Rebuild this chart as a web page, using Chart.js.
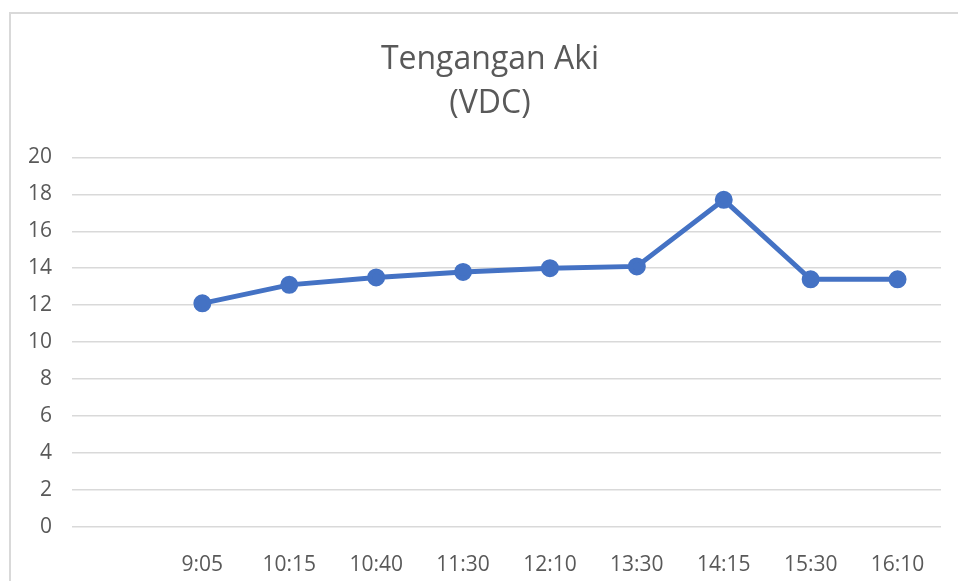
<!DOCTYPE html>
<html>
<head>
<meta charset="utf-8">
<script src="https://cdn.jsdelivr.net/npm/chart.js@4.4.0/dist/chart.umd.min.js"></script>
<style>
  html, body { margin: 0; padding: 0; background: #fff; overflow: hidden; }
  #frame {
    position: absolute; left: 9px; top: 12px;
    width: 1000px; height: 600px;
    border-left: 2px solid #d9d9d9; border-top: 2px solid #d9d9d9;
  }
  #wrap { position: absolute; left: 10px; top: 13px; width: 960px; height: 568px; }
</style>
</head>
<body>
<div id="frame"></div>
<div id="wrap"><canvas id="myChart"></canvas></div>
<script>
// first category is left empty in the original sheet
var times = ['', '9:05', '10:15', '10:40', '11:30', '12:10', '13:30', '14:15', '15:30', '16:10']
var voltage = [null, 12.1, 13.1, 13.5, 13.8, 14.0, 14.1, 17.7, 13.4, 13.4]
var yTicks = [0, 2, 4, 6, 8, 10, 12, 14, 16, 18, 20]

var grey = '#595959'
var font = "'Open Sans', sans-serif"

var ctx = document.getElementById('myChart')

var myChart = new Chart(ctx, {
    type: 'line',
    data: {
        labels: times,
        datasets: [
            {
                label: 'Tengangan Aki (VDC)',
                data: voltage,
                borderColor: '#4472C4',
                backgroundColor: '#4472C4',
                borderWidth: 5,
                pointRadius: 6.5,
                pointHoverRadius: 6.5,
                tension: 0
            }
        ]
    },
    options: {
        responsive: true,
        maintainAspectRatio: false,
        animation: false,
        layout: { padding: 0 },
        plugins: {
            legend: { display: false },
            tooltip: { enabled: false },
            title: {
                display: true,
                text: ['Tengangan Aki', '(VDC)'],
                color: grey,
                font: { family: font, size: 32, weight: 'normal', lineHeight: 1.38 },
                padding: { top: 25, bottom: 31 }
            }
        },
        scales: {
            x: {
                offset: true,
                grid: { display: false },
                border: { display: false },
                ticks: { color: grey, font: { family: font, size: 21 }, padding: 17, maxRotation: 0, autoSkip: false },
                afterFit: function (scale) { scale.height = 54 }
            },
            y: {
                min: 0,
                max: 20,
                afterBuildTicks: function (scale) {
                    scale.ticks = yTicks.map(function (v) { return { value: v } })
                },
                grid: { color: '#d9d9d9', lineWidth: 1.5, drawTicks: false },
                border: { display: false },
                ticks: { color: grey, font: { family: font, size: 21 }, padding: 20 },
                afterFit: function (scale) { scale.width = 62 }
            },
            // empty right axis only reserves the right margin, so the title stays centred on the frame
            yRight: {
                position: 'right',
                min: 0,
                max: 20,
                grid: { display: false, drawTicks: false },
                border: { display: false },
                ticks: { display: false },
                afterFit: function (scale) { scale.width = 29 }
            }
        }
    }
})
</script>
</body>
</html>
